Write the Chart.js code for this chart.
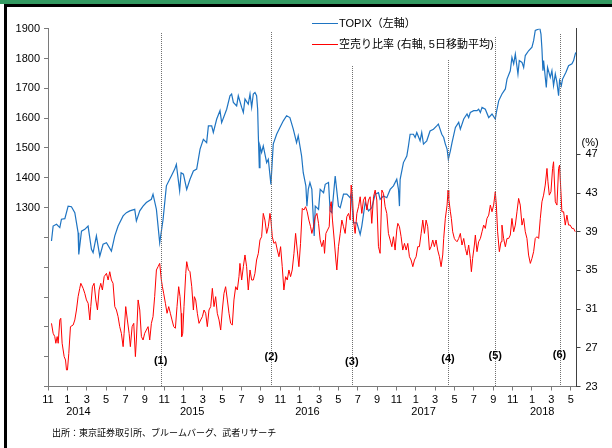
<!DOCTYPE html>
<html>
<head>
<meta charset="utf-8">
<script src="https://cdn.jsdelivr.net/npm/chart.js@4.4.1/dist/chart.umd.min.js"></script>
<style>
  html, body { margin: 0; padding: 0; background: #fff; }
  #wrap { position: relative; width: 612px; height: 448px; overflow: hidden; }
  #topbar { position: absolute; left: 0; top: 0; width: 612px; height: 4px; background: #349a62; }
  #topline { position: absolute; left: 4px; top: 4px; width: 608px; height: 3px; background: #000; }
  #leftline { position: absolute; left: 4px; top: 4px; width: 3px; height: 444px; background: #000; }
  canvas { position: absolute; left: 0; top: 0; }
</style>
</head>
<body>
<div id="wrap">
  <canvas id="chart" width="612" height="448"></canvas>
  <div id="topbar"></div>
  <div id="topline"></div>
  <div id="leftline"></div>
</div>
<script>
// x = months since Nov 2013
const monthTicks = [0,2,4,6,8,10,12,14,16,18,20,22,24,26,28,30,32,34,36,38,40,42,44,46,48,50,52,54];
const monthLabels = ["11","1","3","5","7","9","11","1","3","5","7","9","11","1","3","5","7","9","11","1","3","5","7","9","11","1","3","5"];
const years = ["2014","2015","2016","2017","2018"];
const yearPos = [3.15, 14.9, 26.8, 38.8, 51.05];

const topixTicks = [700,800,900,1000,1100,1200,1300,1400,1500,1600,1700,1800,1900];
const topixLabelled = [1300,1400,1500,1600,1700,1800,1900];
const ratioTicks = [23,27,31,35,39,43,47];

const eventMonths = [11.64, 23.07, 31.39, 41.33, 46.21, 52.85];
const eventLabels = ["(1)","(2)","(3)","(4)","(5)","(6)"];

const topixM = [0.36,0.53,0.88,1.22,1.39,1.74,2.08,2.42,2.77,3.11,3.18,3.46,3.80,4.14,4.49,4.66,5.00,5.35,5.69,6.04,6.55,6.90,7.24,7.76,8.10,8.45,8.96,9.13,9.48,9.82,
  10.16,10.68,10.85,11.20,11.54,11.89,12.23,12.74,13.09,13.26,13.60,13.75,13.99,14.33,14.67,15.02,15.36,15.71,16.05,16.39,16.57,16.91,17.08,17.43,17.77,17.94,18.46,18.80,18.97,19.15,
  19.49,19.66,20.01,20.18,20.35,20.69,20.87,21.04,21.21,21.38,21.55,21.66,21.73,21.83,21.90,22.07,22.24,22.59,22.76,23.03,23.27,23.62,23.96,24.31,24.65,24.99,25.34,25.68,25.85,26.20,
  26.37,26.64,26.75,26.89,27.06,27.26,27.50,27.61,27.95,28.12,28.47,28.64,28.98,29.15,29.33,29.67,30.01,30.19,30.53,30.87,31.22,31.32,31.56,31.91,32.25,32.42,32.77,33.11,33.45,33.80,
  34.14,34.31,34.66,35.00,35.35,35.69,36.03,36.21,36.31,36.38,36.72,37.07,37.24,37.41,37.75,37.93,38.10,38.44,38.61,38.79,39.13,39.47,39.82,40.16,40.33,40.68,40.88,41.05,41.23,41.36,
  41.57,41.74,42.09,42.43,42.60,42.95,43.29,43.46,43.63,43.98,44.32,44.49,44.67,44.84,45.18,45.53,45.87,46.21,46.32,46.56,46.90,47.25,47.42,47.76,47.93,48.11,48.28,48.55,48.69,48.97,
  49.14,49.31,49.65,50.00,50.17,50.34,50.69,50.79,50.93,51.03,51.13,51.20,51.48,51.61,51.89,52.06,52.23,52.41,52.58,52.75,52.85,53.03,53.16,53.51,53.78,54.13,54.30,54.47,54.57];
const topixV = [1188,1238,1244,1233,1261,1263,1305,1303,1283,1216,1143,1221,1227,1238,1160,1149,1205,1137,1177,1182,1154,1205,1238,1272,1283,1289,1294,1255,1289,1305,
  1317,1328,1345,1294,1182,1261,1373,1406,1429,1445,1356,1417,1412,1361,1395,1423,1429,1496,1529,1518,1574,1574,1552,1597,1625,1585,1630,1675,1681,1653,
  1641,1675,1636,1619,1664,1647,1681,1636,1681,1686,1675,1630,1541,1434,1507,1485,1507,1451,1462,1378,1513,1546,1569,1591,1608,1602,1563,1518,1541,1473,
  1417,1373,1305,1361,1384,1361,1205,1305,1294,1361,1350,1378,1384,1289,1283,1406,1305,1300,1345,1345,1333,1345,1249,1249,1210,1238,1317,1289,1300,1345,
  1350,1328,1339,1333,1361,1373,1395,1361,1305,1395,1451,1473,1507,1546,1546,1535,1552,1524,1552,1513,1524,1557,1563,1574,1580,1546,1535,1513,1496,1462,
  1490,1518,1569,1586,1563,1597,1614,1602,1619,1625,1625,1630,1619,1636,1630,1602,1614,1597,1619,1658,1681,1698,1731,1759,1804,1782,1815,1748,1793,1787,
  1770,1810,1826,1838,1860,1894,1899,1905,1882,1832,1759,1793,1703,1770,1737,1759,1709,1748,1720,1675,1726,1709,1731,1754,1776,1782,1793,1815,1821];

const ratioM = [0.36,0.53,0.70,0.81,0.95,1.05,1.22,1.32,1.46,1.67,1.81,1.91,2.01,2.15,2.32,2.60,2.77,2.94,3.11,3.28,3.39,3.63,3.80,3.97,4.15,4.32,4.42,4.59,4.76,4.94,
  5.11,5.28,5.45,5.62,5.80,6.04,6.21,6.38,6.55,6.72,6.90,7.07,7.24,7.41,7.58,7.76,7.86,8.03,8.20,8.38,8.51,8.69,8.86,9.03,9.13,9.31,9.48,9.65,9.82,9.99,
  10.16,10.34,10.51,10.68,10.85,11.02,11.20,11.37,11.54,11.71,11.82,11.95,12.13,12.30,12.47,12.64,12.81,12.99,13.16,13.33,13.50,13.64,13.75,13.81,13.92,14.05,14.23,14.33,14.50,14.67,
  14.85,15.02,15.12,15.26,15.43,15.60,15.77,15.95,16.12,16.29,16.46,16.63,16.81,16.98,17.15,17.32,17.49,17.67,17.84,18.01,18.18,18.35,18.53,18.70,18.87,19.04,19.21,19.39,19.56,19.73,
  19.83,20.01,20.18,20.35,20.52,20.69,20.87,21.04,21.21,21.38,21.55,21.73,21.90,22.07,22.24,22.41,22.59,22.76,22.93,23.03,23.17,23.34,23.51,23.69,23.86,24.03,24.20,24.37,24.55,24.72,
  24.89,25.06,25.23,25.41,25.58,25.75,25.92,26.09,26.27,26.44,26.61,26.78,26.95,27.13,27.26,27.43,27.61,27.78,27.95,28.12,28.29,28.47,28.57,28.71,28.88,29.05,29.15,29.26,29.39,29.57,
  29.74,29.84,30.01,30.19,30.36,30.53,30.70,30.87,31.05,31.22,31.32,31.46,31.56,31.73,31.91,32.08,32.25,32.42,32.59,32.77,32.94,33.11,33.28,33.45,33.63,33.80,33.97,34.14,34.31,34.49,
  34.66,34.83,35.00,35.17,35.35,35.52,35.69,35.86,36.03,36.14,36.31,36.48,36.65,36.83,37.00,37.17,37.34,37.51,37.69,37.86,38.03,38.20,38.37,38.55,38.72,38.89,39.06,39.23,39.41,39.58,
  39.75,39.92,40.09,40.26,40.44,40.61,40.78,40.88,41.05,41.23,41.33,41.40,41.57,41.67,41.81,41.98,42.09,42.26,42.43,42.60,42.77,42.95,43.12,43.29,43.46,43.63,43.74,43.87,44.05,44.15,
  44.32,44.49,44.67,44.84,45.01,45.18,45.35,45.53,45.70,45.87,46.04,46.21,46.32,46.45,46.63,46.80,46.90,47.07,47.25,47.42,47.59,47.76,47.93,48.11,48.28,48.45,48.62,48.79,48.97,49.14,
  49.31,49.48,49.65,49.83,50.00,50.17,50.34,50.51,50.69,50.86,51.03,51.20,51.37,51.55,51.65,51.79,51.96,52.13,52.23,52.41,52.58,52.75,52.85,52.99,53.09,53.27,53.44,53.61,53.78,53.95,
  54.13,54.30,54.47];
const ratioV = [29.53,28.50,28.16,27.47,28.16,27.47,29.88,30.05,27.47,26.09,25.74,24.71,24.71,26.43,29.19,29.36,29.88,30.91,32.29,33.15,33.67,33.15,32.63,31.95,31.60,29.88,31.26,33.32,33.67,31.95,
  30.91,32.98,33.67,32.98,34.36,34.70,34.01,34.87,34.01,33.67,31.26,30.91,30.22,29.19,28.50,27.12,28.50,31.26,29.88,28.50,27.12,29.19,29.53,26.09,27.81,31.95,30.91,28.16,27.81,28.50,
  28.84,29.19,27.81,29.53,30.22,32.29,35.05,35.39,35.73,34.01,33.32,32.63,31.60,30.57,31.26,30.57,29.88,29.19,29.02,31.26,33.32,32.29,30.57,28.16,28.50,31.26,34.70,35.91,35.05,34.87,
  33.32,30.91,32.29,31.95,30.57,29.53,29.88,30.22,30.91,30.57,29.19,30.91,31.26,33.15,31.26,32.29,30.57,29.88,28.84,30.91,32.63,33.32,31.95,30.57,29.53,29.36,31.95,33.32,32.98,34.36,
  35.73,34.01,35.39,36.60,35.39,32.98,35.05,34.01,34.01,34.70,36.08,36.77,38.15,38.49,40.90,40.21,38.83,39.52,40.90,40.21,38.49,37.80,37.97,37.11,36.42,37.46,35.39,32.98,34.36,34.01,
  35.05,34.36,35.05,36.77,38.83,37.11,35.39,37.80,41.42,41.25,41.59,41.07,40.21,39.52,38.83,39.52,40.56,40.90,39.87,38.15,37.46,38.15,36.77,38.83,39.18,39.52,41.59,42.11,40.21,38.15,
  36.08,35.05,37.46,38.83,40.21,39.52,38.83,40.56,40.90,40.21,43.83,42.62,40.21,38.83,40.90,41.59,42.62,40.90,42.28,42.62,41.25,42.28,42.62,39.87,42.62,43.31,42.28,37.46,36.77,43.31,
  42.97,41.59,40.90,38.83,38.15,37.46,38.49,37.11,39.18,39.87,39.52,38.49,37.11,37.80,37.11,37.80,36.42,36.08,35.39,36.08,36.42,37.46,37.46,38.83,40.21,38.83,40.21,39.52,37.11,37.46,
  38.15,37.46,38.15,37.11,36.42,35.39,36.60,38.31,40.38,41.76,43.31,42.45,41.07,40.38,39.00,38.31,38.14,37.97,38.31,38.83,37.63,38.31,37.28,36.59,37.63,36.25,34.87,36.25,37.63,38.66,
  36.94,37.97,38.31,39.00,39.69,39.35,40.38,40.72,41.76,41.07,41.76,43.14,41.76,39.00,36.94,37.97,39.69,38.31,37.45,38.31,38.31,38.66,40.38,39.00,39.69,41.07,42.45,41.76,39.69,40.38,
  39.00,38.31,36.59,35.73,36.25,36.94,38.31,38.49,38.31,40.38,42.10,42.79,43.83,45.55,44.17,42.79,43.14,45.55,46.24,42.10,41.76,45.55,45.89,43.14,41.07,41.07,39.69,40.72,39.69,39.69,
  39.35,39.35,39.00];

// layout (pixels)
const FONT = '"Liberation Sans", Arial, "Noto Sans CJK JP", sans-serif';
const eventTopY = [33, 32, 66, 60, 37, 34];
const eventLabelY = [361, 357, 362, 359, 356, 355];
const BLUE = "#1e74c2";
const RED = "#ff0000";

const overlay = {
  id: "overlay",
  afterDatasetsDraw(chart) {
    const { ctx, chartArea, scales } = chart;
    const x = scales.x, y1 = scales.y1;
    ctx.save();
    ctx.strokeStyle = "#707070";
    ctx.lineWidth = 1;
    ctx.setLineDash([1, 1]);
    eventMonths.forEach((m, i) => {
      const px = Math.round(x.getPixelForValue(m)) + 0.5;
      ctx.beginPath();
      ctx.moveTo(px, eventTopY[i]);
      ctx.lineTo(px, chartArea.bottom);
      ctx.stroke();
    });
    ctx.setLineDash([]);

    ctx.fillStyle = "#000";
    ctx.textAlign = "center";
    ctx.textBaseline = "middle";
    ctx.font = "bold 11px " + FONT;
    eventLabels.forEach((t, i) => ctx.fillText(t, x.getPixelForValue(eventMonths[i]), eventLabelY[i]));

    ctx.font = "11px " + FONT;
    years.forEach((t, i) => ctx.fillText(t, x.getPixelForValue(yearPos[i]), 412));

    ctx.textAlign = "left";
    ctx.fillText("(%)", y1.left + 5, y1.getPixelForValue(47) - 11);

    // legend
    ctx.lineWidth = 1;
    ctx.strokeStyle = BLUE;
    ctx.beginPath(); ctx.moveTo(312, 23.5); ctx.lineTo(338, 23.5); ctx.stroke();
    ctx.strokeStyle = RED;
    ctx.beginPath(); ctx.moveTo(312, 44.5); ctx.lineTo(338, 44.5); ctx.stroke();
    ctx.font = "11px " + FONT;
    ctx.fillText("TOPIX（左軸）", 339, 23.5);
    ctx.fillText("空売り比率 (右軸, 5日移動平均)", 339, 44.5);

    ctx.font = '9px "Noto Sans CJK JP", sans-serif';
    ctx.fillText("出所：東京証券取引所、ブルームバーグ、武者リサーチ", 52, 433);
    ctx.restore();
  }
};

new Chart(document.getElementById("chart"), {
  type: "line",
  data: {
    datasets: [
      {
        label: "空売り比率 (右軸, 5日移動平均)",
        data: ratioM.map((m, i) => ({ x: m, y: ratioV[i] })),
        yAxisID: "y1",
        borderColor: RED,
        borderWidth: 1,
      },
      {
        label: "TOPIX（左軸）",
        data: topixM.map((m, i) => ({ x: m, y: topixV[i] })),
        yAxisID: "y",
        borderColor: BLUE,
        borderWidth: 1.2,
      },
    ],
  },
  options: {
    responsive: false,
    animation: false,
    devicePixelRatio: 1,
    layout: { padding: { top: 28.7, left: 0, right: 0, bottom: 0 } },
    elements: { point: { radius: 0 }, line: { tension: 0 } },
    plugins: { legend: { display: false }, tooltip: { enabled: false } },
    scales: {
      x: {
        type: "linear",
        min: 0,
        max: 54.6,
        afterFit: (s) => { s.height = 61.5; },
        afterBuildTicks: (s) => { s.ticks = monthTicks.map((v) => ({ value: v })); },
        ticks: {
          autoSkip: false,
          maxRotation: 0,
          padding: 3,
          color: "#000",
          font: { family: FONT, size: 11 },
          callback: (v, i) => monthLabels[i],
        },
        grid: { drawOnChartArea: false, tickLength: 4, color: "#7a7a7a" },
        border: { color: "#7a7a7a" },
      },
      y: {
        position: "left",
        min: 700,
        max: 1900,
        afterFit: (s) => { s.width = 48; },
        afterBuildTicks: (s) => { s.ticks = topixTicks.map((v) => ({ value: v })); },
        ticks: {
          autoSkip: false,
          padding: 4,
          color: "#000",
          font: { family: FONT, size: 11 },
          callback: (v) => (topixLabelled.includes(v) ? String(v) : ""),
        },
        grid: { drawOnChartArea: false, tickLength: 4, color: "#7a7a7a" },
        border: { color: "#7a7a7a" },
      },
      y1: {
        position: "right",
        min: 23,
        max: 60,
        afterFit: (s) => { s.width = 35.5; },
        afterBuildTicks: (s) => { s.ticks = ratioTicks.map((v) => ({ value: v })); },
        ticks: {
          autoSkip: false,
          padding: 5,
          color: "#000",
          font: { family: FONT, size: 11 },
        },
        grid: { drawOnChartArea: false, tickLength: 4, color: "#404040" },
        border: { color: "#404040" },
      },
    },
  },
  plugins: [overlay],
});
</script>
</body>
</html>
